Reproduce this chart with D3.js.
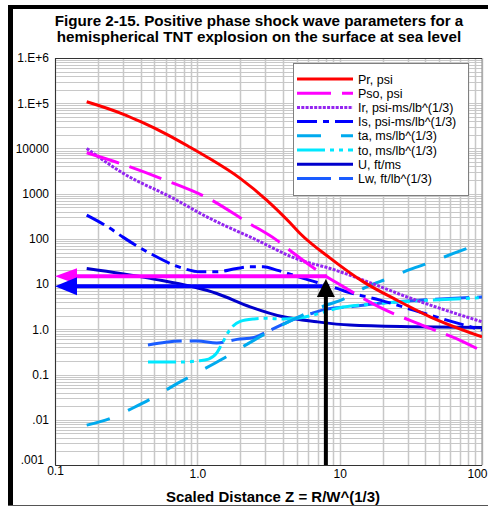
<!DOCTYPE html>
<html>
<head>
<meta charset="utf-8">
<script src="https://cdn.jsdelivr.net/npm/d3@7"></script>
<style>
  html, body { margin: 0; padding: 0; background: #fff; }
  svg { display: block; font-family: "Liberation Sans", Arial, sans-serif; }
</style>
</head>
<body>
<svg id="chart" width="488" height="506"></svg>
<script>
// Scaled distance Z (ft/lb^(1/3)) and parameter values for each series
const prZ  = [0.167, 0.30, 0.40, 0.61, 0.89, 1.16, 2.0, 3.07, 4.48, 5.27, 8.57, 14.7, 25.2, 43.2, 100];
const prV  = [1.08e5, 5.77e4, 3.9e4, 2.05e4, 1.06e4, 6550, 2180, 721, 227, 132, 37.6, 11.2, 4.43, 1.89, 0.68];

const psoZ = [0.167, 0.286, 0.577, 1.16, 2.28, 3.61, 4.6, 8.0, 9.55, 19.2, 37.8, 74, 100];
const psoV = [8040, 4680, 2070, 828, 227, 94, 51.9, 15, 10.7, 3.05, 1.24, 0.53, 0.33];

const irZ  = [0.167, 0.302, 0.678, 1.164, 2.48, 5.27, 8.57, 14.7, 29.6, 50.8, 100];
const irV  = [1.0e4, 2810, 787, 308, 102, 34, 22.2, 12.2, 5.24, 2.9, 1.47];

const isZ  = [0.167, 0.244, 0.302, 0.466, 0.797, 1.045, 1.37, 1.89, 2.35, 2.91, 3.61, 4.48, 5.56, 9.55, 11.2, 19.2, 33, 56.6, 100];
const isV  = [336, 171, 108, 47.7, 22.2, 18.7, 18.7, 22.2, 24.1, 24.1, 20.4, 16.6, 13.4, 8.03, 6.76, 4.43, 2.66, 1.6, 0.96];

const taZ  = [0.167, 0.244, 0.35, 0.5, 0.7, 1.0, 1.5, 2.0, 3.0, 5.0, 7.0, 10.9, 15.5, 22, 31.3, 44.4, 63, 100];
const taV  = [0.0076, 0.0107, 0.018, 0.032, 0.06, 0.11, 0.22, 0.38, 0.8, 1.8, 2.9, 4.83, 8.7, 13.4, 21.1, 31.1, 47.7, 82];

const toZ  = [0.45, 0.6, 0.8, 1.0, 1.2, 1.37, 1.5, 1.7, 2.0, 2.5, 3.0, 4.0, 5.0, 7.0, 10, 15, 25, 50, 100];
const toV  = [0.19, 0.19, 0.19, 0.2, 0.22, 0.3, 0.5, 1.0, 1.5, 1.7, 1.75, 1.7, 1.75, 2.2, 3.0, 3.5, 4.0, 4.5, 5.0];

const uZ   = [0.167, 0.466, 1.37, 2.35, 4.02, 6.9, 11.8, 33, 100];
const uV   = [22.2, 13.4, 6.2, 3.15, 1.89, 1.47, 1.24, 1.14, 1.1];

const lwZ  = [0.45, 0.6, 0.8, 1.0, 1.37, 1.9, 2.5, 3.0, 4.0, 5.0, 6.5, 8.0, 11.8, 20, 40, 100];
const lwV  = [0.45, 0.52, 0.55, 0.55, 0.5, 0.6, 0.66, 0.85, 1.3, 1.8, 2.3, 2.8, 3.15, 3.8, 4.5, 5.2];

// Reading example at Z = 8: Pso and Is picked off the curves
const readZ = 8;
const readPso = 15;
const readIs = 9;
const readTip = 13;

const seriesNames = ["Pr, psi", "Pso, psi", "Ir, psi-ms/lb^(1/3)", "Is, psi-ms/lb^(1/3)",
                     "ta, ms/lb^(1/3)", "to, ms/lb^(1/3)", "U, ft/ms", "Lw, ft/lb^(1/3)"];

const yTickValues = [1e-3, 1e-2, 1e-1, 1, 10, 100, 1000, 1e4, 1e5, 1e6];
const yTickLabels = [".001", ".01", "0.1", "1.0", "10", "100", "1000", "10000", "1.E+5", "1.E+6"];
const xTickValues = [0.1, 1, 10, 100];
const xTickLabels = ["0.1", "1.0", "10", "100"];

const titleLines = ["Figure 2-15. Positive phase shock wave parameters for a",
                    "hemispherical TNT explosion on the surface at sea level"];
const xTitle = "Scaled Distance Z = R/W^(1/3)";

// Line styles for each series
const styles = [
  { color: "#ff0000", dash: null },
  { color: "#ff00ff", dash: "34,11" },
  { color: "#9426f0", dash: "3,1.3" },
  { color: "#0000ff", dash: "20,6,6,6" },
  { color: "#00aaee", dash: "24,20" },
  { color: "#00e8ff", dash: "28,5,4,5,4,5" },
  { color: "#0000cc", dash: null },
  { color: "#1a5cff", dash: "34,8" }
];

const series = [
  [prZ, prV], [psoZ, psoV], [irZ, irV], [isZ, isV],
  [taZ, taV], [toZ, toV], [uZ, uV], [lwZ, lwV]
].map((p, i) => ({
  name: seriesNames[i],
  points: p[0].map((z, k) => ({ z, v: p[1][k] })),
  ...styles[i]
}));

const svg = d3.select("#chart");

// Page frame
svg.append("rect").attr("x", 8).attr("y", 5).attr("width", 480).attr("height", 4).attr("fill", "#000");
svg.append("rect").attr("x", 8).attr("y", 5).attr("width", 5).attr("height", 501).attr("fill", "#000");
svg.append("line").attr("x1", 8).attr("x2", 488).attr("y1", 505.5).attr("y2", 505.5)
  .attr("stroke", "#555").attr("stroke-width", 1);

const plot = { left: 55, right: 482, top: 58, bottom: 465 };
const x = d3.scaleLog().domain([0.1, 100]).range([plot.left, plot.right]);
const y = d3.scaleLog().domain([1e-3, 1e6]).range([plot.bottom, plot.top]);

// Title
svg.append("g").selectAll("text").data(titleLines).join("text")
  .attr("x", 259).attr("y", (d, i) => 25.5 + i * 16.5)
  .attr("text-anchor", "middle").attr("font-weight", "bold").attr("font-size", 15.2)
  .attr("fill", "#000").text(d => d);

// Log grid: every 1..9 multiple in each decade
function logGrid(domain) {
  const out = [];
  const lo = Math.round(Math.log10(domain[0])), hi = Math.round(Math.log10(domain[1]));
  for (let e = lo; e < hi; e++) for (let k = 1; k <= 9; k++) out.push(k * Math.pow(10, e));
  out.push(Math.pow(10, hi));
  return out;
}
const grid = svg.append("g");
grid.selectAll("line.gx").data(logGrid(x.domain())).join("line").attr("class", "gx")
  .attr("x1", d => Math.round(x(d)) + 0.5).attr("x2", d => Math.round(x(d)) + 0.5)
  .attr("y1", plot.top).attr("y2", plot.bottom)
  .attr("stroke", "#c8c8c8").attr("stroke-width", 1.5);
grid.selectAll("line.gy").data(logGrid(y.domain())).join("line").attr("class", "gy")
  .attr("y1", d => Math.round(y(d)) + 0.5).attr("y2", d => Math.round(y(d)) + 0.5)
  .attr("x1", plot.left).attr("x2", plot.right)
  .attr("stroke", "#c8c8c8").attr("stroke-width", 1);

// Plot border
svg.append("path")
  .attr("d", `M${plot.left + 0.5},${plot.top + 0.5}H${plot.right}V${plot.bottom + 0.5}H${plot.left + 0.5}Z`)
  .attr("fill", "none").attr("stroke", "#909090").attr("stroke-width", 1);
svg.append("path")
  .attr("d", `M${plot.left + 0.5},${plot.top + 0.5}V${plot.bottom + 0.5}H${plot.right}`)
  .attr("fill", "none").attr("stroke", "#333").attr("stroke-width", 1);
svg.append("line").attr("x1", plot.left).attr("x2", plot.right)
  .attr("y1", plot.top + 0.5).attr("y2", plot.top + 0.5).attr("stroke", "#333");

// Axes
const yAxis = d3.axisLeft(y).tickValues(yTickValues).tickSize(0).tickPadding(6)
  .tickFormat((d, i) => yTickLabels[i]);
const gy = svg.append("g").attr("transform", `translate(${plot.left},0)`).call(yAxis);
gy.select(".domain").remove();
gy.selectAll("text").attr("font-size", 12).attr("font-family", "Liberation Sans, Arial, sans-serif").attr("fill", "#000");
gy.selectAll(".tick").filter(d => d === 1e-3).select("text").attr("dx", -5).attr("dy", "-0.1em");

const xAxis = d3.axisBottom(x).tickValues(xTickValues).tickSize(0).tickPadding(4)
  .tickFormat((d, i) => xTickLabels[i]);
const gx = svg.append("g").attr("transform", `translate(0,${plot.bottom})`).call(xAxis);
gx.select(".domain").remove();
gx.selectAll("text").attr("font-size", 12).attr("font-family", "Liberation Sans, Arial, sans-serif").attr("fill", "#000");
gx.selectAll(".tick").filter(d => d === 0.1).select("text").attr("dy", "0.5em");
gx.selectAll(".tick").filter(d => d === 100).select("text").attr("text-anchor", "end").attr("dx", 5);

svg.append("text").attr("x", 273).attr("y", 502)
  .attr("text-anchor", "middle").attr("font-weight", "bold").attr("font-size", 15)
  .text(xTitle);

// Curves
const clip = svg.append("clipPath").attr("id", "plotClip").append("rect")
  .attr("x", plot.left).attr("y", plot.top)
  .attr("width", plot.right - plot.left).attr("height", plot.bottom - plot.top);

const line = d3.line().x(d => x(d.z)).y(d => y(d.v)).curve(d3.curveMonotoneX);
const curves = svg.append("g").attr("clip-path", "url(#plotClip)");
curves.selectAll("path").data(series.slice().reverse()).join("path")
  .attr("d", d => line(d.points))
  .attr("fill", "none")
  .attr("stroke", d => d.color)
  .attr("stroke-width", 3)
  .attr("stroke-dasharray", d => d.dash)
  .attr("stroke-linecap", "butt");

// Reading arrows
const arrows = svg.append("g");
function hArrow(val, color, xEnd, headLen, headHalf) {
  const yy = y(val);
  arrows.append("line").attr("x1", plot.left + headLen - 2).attr("x2", xEnd)
    .attr("y1", yy).attr("y2", yy).attr("stroke", color).attr("stroke-width", 4);
  arrows.append("path")
    .attr("d", `M${plot.left},${yy}L${plot.left + headLen},${yy - headHalf}L${plot.left + headLen},${yy + headHalf}Z`)
    .attr("fill", color);
}
hArrow(readPso, "#ff00ff", x(readZ) + 1, 22, 8);
hArrow(readIs, "#0000ff", x(readZ) - 3, 22, 9);

const ax = x(readZ), tipY = y(readTip);
arrows.append("line").attr("x1", ax).attr("x2", ax).attr("y1", plot.bottom).attr("y2", tipY + 16)
  .attr("stroke", "#000").attr("stroke-width", 4);
arrows.append("path")
  .attr("d", `M${ax},${tipY}L${ax - 9},${tipY + 18}L${ax + 9},${tipY + 18}Z`).attr("fill", "#000");

// Legend
const lg = svg.append("g");
lg.append("rect").attr("x", 293.5).attr("y", 63.5).attr("width", 175).attr("height", 132)
  .attr("fill", "#fff").attr("stroke", "#808080").attr("stroke-width", 1);
const rows = lg.selectAll("g.row").data(series).join("g").attr("class", "row")
  .attr("transform", (d, i) => `translate(0,${79 + i * 14.2})`);
rows.append("line").attr("x1", 297).attr("x2", 353).attr("y1", 0).attr("y2", 0)
  .attr("stroke", d => d.color).attr("stroke-width", 3).attr("stroke-dasharray", d => d.dash);
rows.append("text").attr("x", 358).attr("y", 4.5).attr("font-size", 12.5).attr("fill", "#000")
  .text(d => d.name);
</script>
</body>
</html>
